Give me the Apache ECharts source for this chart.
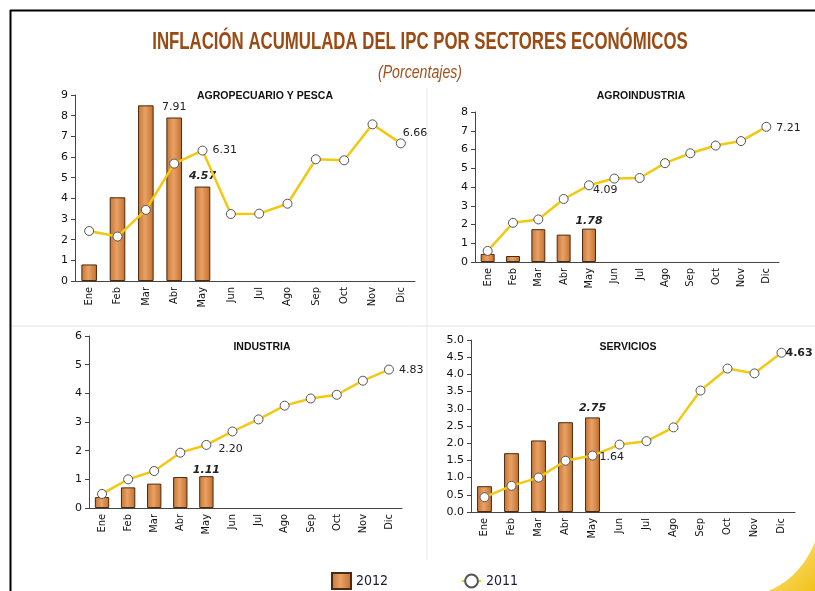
<!DOCTYPE html>
<html>
<head>
<meta charset="utf-8">
<script src="https://cdn.jsdelivr.net/npm/echarts@6/dist/echarts.min.js"></script>
<style>
html,body{margin:0;padding:0;background:#fff;}
#main{width:815px;height:591px;}
</style>
</head>
<body>
<div id="main"></div>
<script>
var meses = ['Ene', 'Feb', 'Mar', 'Abr', 'May', 'Jun', 'Jul', 'Ago', 'Sep', 'Oct', 'Nov', 'Dic'];
var sectores = ['AGROPECUARIO Y PESCA', 'AGROINDUSTRIA', 'INDUSTRIA', 'SERVICIOS'];

// 2012 (ene-may)
var agro2012 = [0.80, 4.05, 8.50, 7.91, 4.57];
var agroind2012 = [0.43, 0.32, 1.75, 1.46, 1.78];
var ind2012 = [0.38, 0.72, 0.85, 1.08, 1.11];
var serv2012 = [0.75, 1.71, 2.08, 2.61, 2.75];

// 2011 (ene-dic)
var agro2011 = [2.42, 2.15, 3.44, 5.68, 6.31, 3.24, 3.26, 3.74, 5.89, 5.84, 7.58, 6.66];
var agroind2011 = [0.59, 2.09, 2.27, 3.36, 4.09, 4.45, 4.48, 5.27, 5.80, 6.21, 6.45, 7.21];
var ind2011 = [0.49, 1.00, 1.29, 1.93, 2.20, 2.67, 3.09, 3.57, 3.82, 3.95, 4.44, 4.83];
var serv2011 = [0.43, 0.76, 1.00, 1.49, 1.64, 1.96, 2.06, 2.46, 3.53, 4.17, 4.03, 4.63];

var ejeMax = [9, 8, 6, 5];
var ejeIntervalo = [1, 1, 1, 0.5];

var myChart = echarts.init(document.getElementById('main'));

var narrow = "'DejaVu Sans Condensed', 'Liberation Sans Narrow', sans-serif";
var arial = "'Liberation Sans', Arial, sans-serif";
var verd = "'DejaVu Sans', Verdana, sans-serif";
var amarillo = '#f2c811';

var grids = [
    {left: 75, right: 400, top: 95, bottom: 310},
    {left: 475, right: 36, top: 112, bottom: 329},
    {left: 89, right: 413, top: 336, bottom: 83},
    {left: 471, right: 20, top: 340, bottom: 79}
];
var titPos = [[260, 86], [636, 86], [257, 337], [623, 337]];

var barras = [agro2012, agroind2012, ind2012, serv2012];
var lineas = [agro2011, agroind2011, ind2011, serv2011];

// etiquetas de datos (indice -> opciones de label)
var lblBarra = [
    {3: {}, 4: {fontWeight: 'bold', fontStyle: 'italic'}},
    {4: {fontWeight: 'bold', fontStyle: 'italic', distance: 2}},
    {4: {fontWeight: 'bold', fontStyle: 'italic', distance: 1}},
    {4: {fontWeight: 'bold', fontStyle: 'italic', distance: 4}}
];
var lblLinea = [
    {4: {position: 'right', offset: [0, 0]}, 11: {position: 'right', offset: [-8, -10]}},
    {4: {position: 'right', offset: [-6, 5]}, 11: {position: 'right', offset: [0, 1]}},
    {4: {position: 'right', offset: [0, 4], backgroundColor: '#fff', padding: [1, 2]}, 11: {position: 'right', offset: [0, 1]}},
    {4: {position: 'right', offset: [-3, 2]}, 11: {position: 'right', offset: [-6, 0], fontWeight: 'bold'}}
];

function armar(vals, lbls, defPos) {
    return vals.map(function (v, i) {
        if (!lbls[i]) return v;
        var l = Object.assign({show: true, position: defPos, color: '#222', fontSize: 11, fontFamily: verd,
            formatter: function (p) { return p.value.toFixed(2); }}, lbls[i]);
        return {value: v, label: l};
    });
}

var xAxes = [], yAxes = [], series = [], titles = [];
grids.forEach(function (g, k) {
    titles.push({
        text: sectores[k], left: titPos[k][0], top: titPos[k][1], textAlign: 'center',
        textStyle: {fontSize: 10.5, fontWeight: 'bold', color: '#111', fontFamily: arial}
    });
    xAxes.push({
        type: 'category', gridIndex: k, data: meses,
        axisLine: {lineStyle: {color: '#444', width: 1}},
        axisTick: {length: 4, lineStyle: {color: '#444'}},
        axisLabel: {rotate: 90, fontSize: 11, color: '#111', fontFamily: narrow, margin: 6}
    });
    yAxes.push({
        type: 'value', gridIndex: k, min: 0, max: ejeMax[k], interval: ejeIntervalo[k],
        splitLine: {show: false},
        axisLine: {show: true, lineStyle: {color: '#444', width: 1}},
        axisTick: {show: true, length: 4, lineStyle: {color: '#444'}},
        axisLabel: {fontSize: 11, color: '#111', fontFamily: verd, margin: 7,
            formatter: k === 3 ? function (v) { return v.toFixed(1); } : '{value}'}
    });
    series.push({
        name: '2012', type: 'bar', xAxisIndex: k, yAxisIndex: k, barWidth: '55%',
        data: armar(barras[k], lblBarra[k], 'top'),
        itemStyle: {
            color: new echarts.graphic.LinearGradient(0, 0, 1, 0, [
                {offset: 0, color: '#c87432'},
                {offset: 0.45, color: '#e8a266'},
                {offset: 1, color: '#c46e2c'}
            ]),
            borderColor: '#4a2a10', borderWidth: 1
        }
    });
    series.push({
        name: '2011', type: 'line', xAxisIndex: k, yAxisIndex: k,
        data: armar(lineas[k], lblLinea[k], 'right'),
        symbol: 'circle', symbolSize: 9,
        lineStyle: {color: amarillo, width: 2.5},
        itemStyle: {color: '#fff', borderColor: '#555', borderWidth: 1},
        z: 3
    });
});

// adorno amarillo de la esquina
var curva = [];
for (var t = 0; t <= 20; t++) {
    var u = t / 20;
    curva.push([(1 - u) * (1 - u) * 768 + 2 * u * (1 - u) * 800 + u * u * 815,
                (1 - u) * (1 - u) * 591 + 2 * u * (1 - u) * 578 + u * u * 542]);
}
curva.push([815, 591]);

var option = {
    backgroundColor: '#fff',
    animation: false,
    title: titles,
    grid: grids,
    xAxis: xAxes,
    yAxis: yAxes,
    legend: {
        data: [{name: '2012', icon: 'rect'}, '2011'], left: 326, top: 567, itemWidth: 19, itemHeight: 16, itemGap: 73,
        textStyle: {fontSize: 14, color: '#1a1a3a', fontFamily: narrow}
    },
    graphic: [
        {type: 'line', shape: {x1: 10, y1: 326, x2: 815, y2: 326}, style: {stroke: '#e4e4e4', lineWidth: 1}},
        {type: 'line', shape: {x1: 427, y1: 88, x2: 427, y2: 560}, style: {stroke: '#e8e8e8', lineWidth: 1}},
        {type: 'line', shape: {x1: 10, y1: 10.5, x2: 815, y2: 10.5}, style: {stroke: '#000', lineWidth: 2}},
        {type: 'line', shape: {x1: 10.5, y1: 10, x2: 10.5, y2: 591}, style: {stroke: '#000', lineWidth: 2}},
        {type: 'polygon', shape: {points: curva},
            style: {fill: new echarts.graphic.LinearGradient(0, 0, 1, 1, [
                {offset: 0, color: '#fbe58a'}, {offset: 1, color: '#f2c21a'}])}},
        {type: 'text', x: 420, y: 42, scaleX: 0.70, originX: 0,
            style: {text: 'INFLACIÓN ACUMULADA DEL IPC POR SECTORES ECONÓMICOS', fill: '#9a4a12',
                font: 'bold 24px ' + arial, textAlign: 'center', textVerticalAlign: 'middle'}},
        {type: 'text', x: 420, y: 73, scaleX: 0.745, originX: 0,
            style: {text: '(Porcentajes)', fill: '#a0521c',
                font: 'italic 19px ' + arial, textAlign: 'center', textVerticalAlign: 'middle'}}
    ],
    series: series
};
myChart.setOption(option);
</script>
</body>
</html>
